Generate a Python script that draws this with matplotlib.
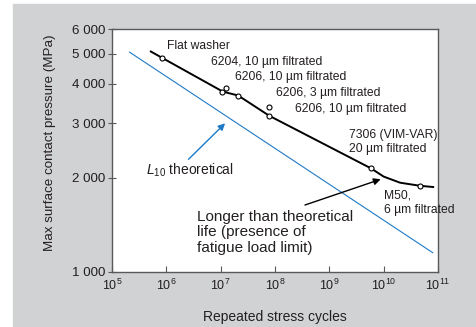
import matplotlib
matplotlib.use('Agg')
import matplotlib.pyplot as plt
from matplotlib.patches import Rectangle
from matplotlib.ticker import FixedLocator, FixedFormatter, NullLocator

plt.rcParams['font.family'] = ['Liberation Sans', 'DejaVu Sans']
plt.rcParams['mathtext.fontset'] = 'custom'
plt.rcParams['mathtext.rm'] = 'Liberation Sans'
plt.rcParams['mathtext.it'] = 'Liberation Sans:italic'

# measured test points (open circles)
points_x = [8.2e5, 1.05e7, 1.24e7, 2.09e7, 7.9e7, 7.9e7, 5.8e9, 4.7e10]
points_y = [4860, 3767, 3896, 3674, 3388, 3162, 2149, 1888]

# fitted life curve
curve_x = [5e5, 8.2e5, 1.1e7, 2.1e7, 7.9e7, 5.8e9, 1e10, 2e10, 4.7e10, 8.5e10]
curve_y = [5100, 4860, 3780, 3674, 3162, 2149, 2021, 1932, 1888, 1870]

# L10 theoretical line
l10_x = [2.1e5, 8e10]
l10_y = [5060, 1153]

x_ticks = [1e5, 1e6, 1e7, 1e8, 1e9, 1e10, 1e11]
x_labels = ['$\\mathregular{10^{%d}}$' % e for e in range(5, 12)]
y_ticks = [1000, 2000, 3000, 4000, 5000, 6000]
y_labels = ['1 000', '2 000', '3 000', '4 000', '5 000', '6 000']

GRAY = '#d1d2d4'
BLUE = '#1f7ac6'
TXT = '#231f20'
SPINE = '#58595b'

fig = plt.figure(figsize=(4.76, 3.27), dpi=100, facecolor='white')
fig.patches.append(Rectangle((13 / 476, 0), 1 - 13 / 476, 1 - 4 / 327,
                             transform=fig.transFigure, color=GRAY, zorder=-10))
ax = fig.add_axes([112 / 476, 1 - 272 / 327, 326 / 476, 243 / 327])
ax.set_facecolor('white')
ax.set_xscale('log')
ax.set_yscale('log')
ax.set_xlim(1e5, 1e11)
ax.set_ylim(1000, 6000)

ax.plot(l10_x, l10_y, color=BLUE, lw=0.8)
ax.plot(curve_x, curve_y, color='black', lw=1.4, solid_capstyle='butt')
ax.plot(points_x, points_y, 'o', ms=3.6, mfc='white', mec='black', mew=0.8)

ax.xaxis.set_major_locator(FixedLocator(x_ticks))
ax.xaxis.set_major_formatter(FixedFormatter(x_labels))
ax.xaxis.set_minor_locator(NullLocator())
ax.yaxis.set_major_locator(FixedLocator(y_ticks))
ax.yaxis.set_major_formatter(FixedFormatter(y_labels))
ax.yaxis.set_minor_locator(NullLocator())
ax.tick_params(axis='x', direction='in', length=4, width=0.8, color=SPINE,
               labelsize=9, labelcolor=TXT, pad=4)
ax.tick_params(axis='y', direction='inout', length=6, width=0.8, color=SPINE,
               labelsize=9.6, labelcolor=TXT, pad=1.5)
for s in ax.spines.values():
    s.set_color(SPINE)
    s.set_linewidth(1.0)

ax.set_xlabel('Repeated stress cycles', fontsize=10, color=TXT)
ax.set_ylabel('Max surface contact pressure (MPa)', fontsize=9.6, color=TXT)
ax.xaxis.set_label_coords(0.5, -0.158)
ax.yaxis.set_label_coords(-0.172, 0.533)

small = dict(fontsize=8.7, color=TXT, va='center', ha='left', transform=ax.transAxes)
ax.text(0.168, 0.931, 'Flat washer', **small)
ax.text(0.303, 0.865, '6204, 10 µm filtrated', **small)
ax.text(0.377, 0.804, '6206, 10 µm filtrated', **small)
ax.text(0.503, 0.735, '6206, 3 µm filtrated', **small)
ax.text(0.561, 0.671, '6206, 10 µm filtrated', **small)
ax.text(0.727, 0.535, '7306 (VIM-VAR)\n20 µm filtrated', linespacing=1.2, **small)
ax.text(0.835, 0.286, 'M50,\n6 µm filtrated', linespacing=1.25, clip_on=False, **small)
ax.text(0.104, 0.42, '$L_{10}$ theoretical', fontsize=10, color=TXT, va='center',
        ha='left', transform=ax.transAxes)
ax.text(0.26, 0.163, 'Longer than theoretical\nlife (presence of\nfatigue load limit)',
        fontsize=11, color=TXT, va='center', ha='left', linespacing=1.15,
        transform=ax.transAxes)

ax.annotate('', xy=(0.347, 0.612), xytext=(0.2347, 0.4638), xycoords='axes fraction',
            arrowprops=dict(arrowstyle='-|>', color=BLUE, lw=1.0, mutation_scale=10,
                            shrinkA=0, shrinkB=0))
ax.annotate('', xy=(0.824, 0.3815), xytext=(0.592, 0.2757), xycoords='axes fraction',
            arrowprops=dict(arrowstyle='-|>', color='black', lw=1.0, mutation_scale=10,
                            shrinkA=0, shrinkB=0))

plt.savefig('out.png', dpi=100)
